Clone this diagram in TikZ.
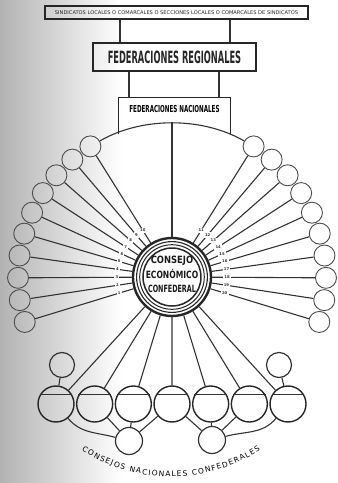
\documentclass[tikz,border=0pt]{standalone}
\usepackage{graphicx}
\usepackage{fontspec}
\setsansfont{DejaVu Sans}
\usetikzlibrary{decorations.text}
\newcommand{\sqz}[2]{\scalebox{#1}[1]{#2}}

\begin{document}
\begin{tikzpicture}[x=1pt,y=1pt,
    ln/.style={line width=1.1pt, black!80},
    box/.style={draw, line width=1.2pt, black!85, inner sep=0pt},
    fed/.style={circle, draw, line width=0.9pt, black!70, minimum size=21pt, inner sep=0pt},
    cnc/.style={circle, draw, line width=1.4pt, black!85, minimum size=36pt, inner sep=0pt},
    sub/.style={circle, draw, line width=1.2pt, black!80, minimum size=#1, inner sep=0pt},
    num/.style={fill=white, inner sep=1.2pt, font=\fontsize{3.8}{4}\selectfont\sffamily\bfseries}]
  \useasboundingbox (-172,-206) rectangle (166,277);
  \shade[left color=black!30, right color=white] (-172,-206) rectangle (-50,277);

  \node[box, minimum width=263pt, minimum height=13pt] (sind) at (4.5,264.5)
       {\fontsize{5.1}{6}\selectfont\sffamily SINDICATOS LOCALES O COMARCALES O SECCIONES LOCALES O COMARCALES DE SINDICATOS};
  \node[box, line width=1.5pt, minimum width=163pt, minimum height=28pt] (reg) at (2.5,220)
       {\fontsize{16.9}{17}\selectfont\sffamily\bfseries\sqz{0.49}{FEDERACIONES REGIONALES}};
  \draw[ln] ([xshift=-56.5pt]sind.south) -- ([xshift=-56.5pt]sind.south |- reg.north);
  \draw[ln] ([xshift=53.5pt]sind.south) -- ([xshift=53.5pt]sind.south |- reg.north);

  \node[minimum width=111pt, minimum height=36pt, inner sep=0pt] (nac) at (2.5,161) {};
  \node (nact) at (2.5,168) {\fontsize{9.6}{10}\selectfont\sffamily\bfseries\sqz{0.58}{FEDERACIONES NACIONALES}};
  \draw[box] (nac.south west) -- (nac.north west) -- (nac.north east) -- (nac.south east);
  \draw[ln] ([xshift=-45.5pt]reg.south) -- ([xshift=-45.5pt]reg.south |- nac.north);
  \draw[ln] ([xshift=44.5pt]reg.south) -- ([xshift=44.5pt]reg.south |- nac.north);

  \node[circle, draw, line width=2.4pt, black!85, minimum size=78pt, inner sep=0pt] (cec) at (0,0) {};
  \draw[line width=1.1pt, black!85] (cec) circle [radius=35.4];
  \draw[line width=1pt, black!85] (cec) circle [radius=32.3];
  \draw[line width=1.5pt, black!85] (cec) circle [radius=29];
  \node[align=center, black!90, font=\fontsize{10}{14.3}\selectfont\sffamily\bfseries] (cectxt) at (0,2.5)
       {\sqz{0.84}{CONSEJO}\\ \sqz{0.76}{ECONÓMICO}\\ \sqz{0.64}{CONFEDERAL}};

  \foreach \k in {0,...,9}{
    \node[fed] (fl\k) at ({122+8.33*\k}:154) {};
    \node[fed] (fr\k) at ({58-8.33*\k}:154) {};
    \pgfmathtruncatemacro{\a}{10-\k}
    \pgfmathtruncatemacro{\b}{11+\k}
    \draw[ln] (fl\k) -- (cec) node[pos=0.855, num] {\a};
    \draw[ln] (fr\k) -- (cec) node[pos=0.855, num] {\b};
  }
  \coordinate (arctop) at (0,154);
  \draw[ln] (fr0) to[bend right=30, looseness=0.86] (fl0);
  \draw[ln] (arctop) -- (cec);

  \foreach \i in {1,...,7}{
    \node[cnc] (c\i) at ({-116+38.67*(\i-1)},-127) {};
    \draw[ln] (c\i.30) -- (c\i.150);
    \draw[ln] (cec) -- (c\i);
  }
  \node[sub=25pt] (ct1) at (-110,-88) {};
  \node[sub=25pt] (ct2) at (107,-88) {};
  \draw[ln] (ct1) -- (c1);
  \draw[ln] (ct2) -- (c7);

  \node[sub=27pt] (cl1) at (-43,-164) {};
  \node[sub=27pt] (cl2) at (40,-163) {};
  \draw[ln] (c1) to[out=-50, in=165] (cl1);
  \draw[ln] (c2) -- (cl1);
  \draw[ln] (c3) -- (cl1);
  \draw[ln] (c4) -- (cl1);
  \draw[ln] (c4) -- (cl2);
  \draw[ln] (c5) -- (cl2);
  \draw[ln] (c6) -- (cl2);
  \draw[ln] (c7) to[out=-130, in=15] (cl2);

  \path[decorate, decoration={text along path, text align={fit to path},
        text={|\sffamily\fontsize{7.5}{8}\selectfont|CONSEJOS NACIONALES CONFEDERALES}}]
       (-1,-35.6) ++(237:164) arc [start angle=237, end angle=303, radius=164];
\end{tikzpicture}
\end{document}
